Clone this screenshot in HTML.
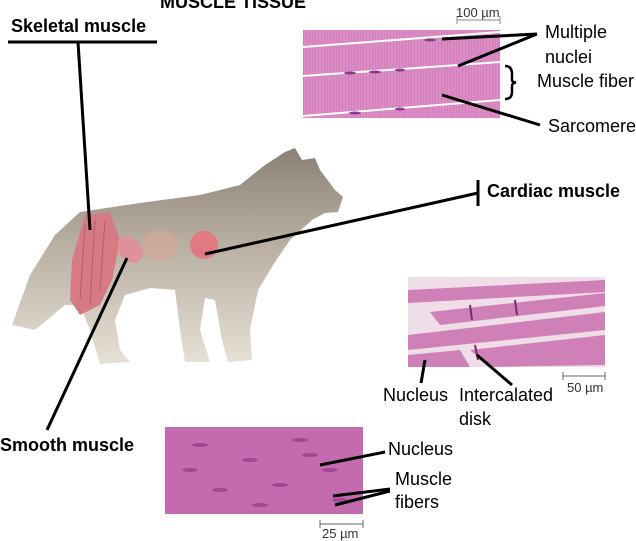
<!DOCTYPE html>
<html><head><meta charset="utf-8"><style>
html,body{margin:0;padding:0;background:#fff;}
body{width:636px;height:540px;position:relative;overflow:hidden;font-family:"Liberation Sans",Arial,sans-serif;}
.t{position:absolute;white-space:nowrap;color:#000;line-height:21px;}
.b{font-weight:bold;font-size:18px;}
.n{font-size:18px;}
.s{font-size:13px;color:#333;line-height:15px;}
</style></head><body>
<svg width="636" height="540" style="position:absolute;left:0;top:0">
<defs>
<pattern id="str" width="3" height="10" patternUnits="userSpaceOnUse"><rect width="3" height="10" fill="#dc8cc4"/><rect width="1" height="10" fill="#d27fba"/></pattern>
<linearGradient id="fur" x1="0" y1="0" x2="0" y2="1"><stop offset="0" stop-color="#8a8074"/><stop offset="0.45" stop-color="#b9b0a2"/><stop offset="1" stop-color="#e6e0d6"/></linearGradient>
<clipPath id="sm"><rect x="165" y="427" width="198" height="87"/></clipPath>
</defs>
<rect x="303" y="30" width="197" height="88" fill="url(#str)"/>
<g stroke="#fff" stroke-width="2">
<line x1="303" y1="47" x2="500" y2="32"/>
<line x1="303" y1="76" x2="500" y2="62"/>
<line x1="303" y1="116" x2="500" y2="100"/>
</g>
<g fill="#8a3a8a"><ellipse cx="350" cy="73" rx="6" ry="1.5"/><ellipse cx="375" cy="72" rx="6" ry="1.5"/><ellipse cx="400" cy="70" rx="5" ry="1.5"/><ellipse cx="400" cy="109" rx="5" ry="1.5"/><ellipse cx="355" cy="113" rx="6" ry="1.5"/><ellipse cx="430" cy="40" rx="6" ry="1.5"/></g>
<line x1="457" y1="20" x2="500" y2="20" stroke="#888" stroke-width="1"/>
<line x1="457" y1="16" x2="457" y2="24" stroke="#888"/><line x1="500" y1="16" x2="500" y2="24" stroke="#888"/>
<rect x="408" y="277" width="197" height="90" fill="#efdde8"/>
<g fill="#c86aac" opacity="0.8">
<polygon points="408,290 605,280 605,292 408,303"/>
<polygon points="430,312 605,293 605,306 440,325"/>
<polygon points="408,335 605,312 605,330 408,350"/>
<polygon points="470,350 605,335 605,365 490,367"/>
<polygon points="408,355 460,350 470,367 408,367"/>
</g>
<g stroke="#7a2a6a" stroke-width="2"><line x1="470" y1="305" x2="472" y2="320"/><line x1="515" y1="300" x2="517" y2="315"/><line x1="475" y1="345" x2="478" y2="360"/></g>
<line x1="563" y1="376" x2="605" y2="376" stroke="#666"/><line x1="563" y1="372" x2="563" y2="380" stroke="#666"/><line x1="605" y1="372" x2="605" y2="380" stroke="#666"/>
<rect x="165" y="427" width="198" height="87" fill="#c46aae"/>
<g fill="#9a3f8a" opacity="0.8" clip-path="url(#sm)">
<ellipse cx="200" cy="445" rx="8" ry="2"/><ellipse cx="250" cy="460" rx="8" ry="2"/><ellipse cx="300" cy="440" rx="8" ry="2"/><ellipse cx="220" cy="490" rx="8" ry="2"/><ellipse cx="280" cy="485" rx="8" ry="2"/><ellipse cx="330" cy="470" rx="8" ry="2"/><ellipse cx="190" cy="470" rx="8" ry="2"/><ellipse cx="260" cy="505" rx="8" ry="2"/><ellipse cx="340" cy="500" rx="8" ry="2"/><ellipse cx="310" cy="455" rx="8" ry="2"/>
</g>
<line x1="320" y1="524" x2="363" y2="524" stroke="#666"/><line x1="320" y1="520" x2="320" y2="528" stroke="#666"/><line x1="363" y1="520" x2="363" y2="528" stroke="#666"/>
<path d="M12,325 L30,275 L55,235 L80,212 L140,203 L200,195 L240,185 L265,165 L285,152 L295,148 L302,160 L315,158 L320,170 L335,190 L343,197 L338,212 L325,213 L312,220 L290,240 L275,262 L258,290 L250,330 L252,360 L228,362 L222,340 L215,300 L205,298 L200,330 L210,362 L185,362 L180,330 L175,290 L150,288 L125,295 L115,320 L120,350 L130,362 L100,364 L90,330 L80,305 L65,305 L35,330 Z" fill="url(#fur)"/>
<path d="M85,215 L110,212 L120,240 L112,280 L100,305 L80,315 L70,300 L72,260 Z" fill="#d67a86"/>
<g stroke="#b85a68" stroke-width="1"><line x1="85" y1="225" x2="80" y2="300"/><line x1="95" y1="220" x2="90" y2="305"/><line x1="105" y1="220" x2="100" y2="290"/></g>
<path d="M118,240 Q130,232 140,245 Q148,258 135,263 Q122,262 118,250 Z" fill="#e0909a"/>
<ellipse cx="160" cy="245" rx="18" ry="15" fill="#d4a898" opacity="0.7"/>
<ellipse cx="204" cy="245" rx="14" ry="14" fill="#e07a80"/>
<g stroke="#000" stroke-width="3" fill="none">
<line x1="8" y1="42" x2="157" y2="42"/>
<line x1="78" y1="42" x2="90" y2="230"/>
<line x1="205" y1="254" x2="478" y2="193"/>
<line x1="478" y1="180" x2="478" y2="206"/>
<line x1="47" y1="430" x2="127" y2="258"/>
<line x1="442" y1="39" x2="537" y2="34"/>
<line x1="458" y1="66" x2="537" y2="34"/>
<line x1="442" y1="95" x2="540" y2="125"/>
<line x1="425" y1="360" x2="421" y2="383"/>
<line x1="477" y1="355" x2="512" y2="385"/>
<line x1="320" y1="465" x2="385" y2="452"/>
<line x1="333" y1="496" x2="390" y2="489"/>
<line x1="335" y1="505" x2="390" y2="491"/>
<path d="M505,66 Q512,66 512,74 L512,80 Q512,82 516,82.5 Q512,83 512,86 L512,92 Q512,99 505,99" stroke-width="2.5"/>
</g>
</svg>
<div class="t b" style="left:160px;top:-8px">MUSCLE TISSUE</div>
<div class="t b" style="left:11px;top:16px">Skeletal muscle</div>
<div class="t b" style="left:487px;top:181px">Cardiac muscle</div>
<div class="t b" style="left:0px;top:435px">Smooth muscle</div>
<div class="t s" style="left:456px;top:5px">100 µm</div>
<div class="t n" style="left:545px;top:22px">Multiple</div>
<div class="t n" style="left:545px;top:47px">nuclei</div>
<div class="t n" style="left:537px;top:71px">Muscle fiber</div>
<div class="t n" style="left:548px;top:116px">Sarcomere</div>
<div class="t s" style="left:567px;top:380px">50 µm</div>
<div class="t n" style="left:383px;top:385px">Nucleus</div>
<div class="t n" style="left:459px;top:385px">Intercalated</div>
<div class="t n" style="left:459px;top:409px">disk</div>
<div class="t n" style="left:388px;top:439px">Nucleus</div>
<div class="t n" style="left:395px;top:469px">Muscle</div>
<div class="t n" style="left:395px;top:492px">fibers</div>
<div class="t s" style="left:322px;top:526px">25 µm</div>
</body></html>
